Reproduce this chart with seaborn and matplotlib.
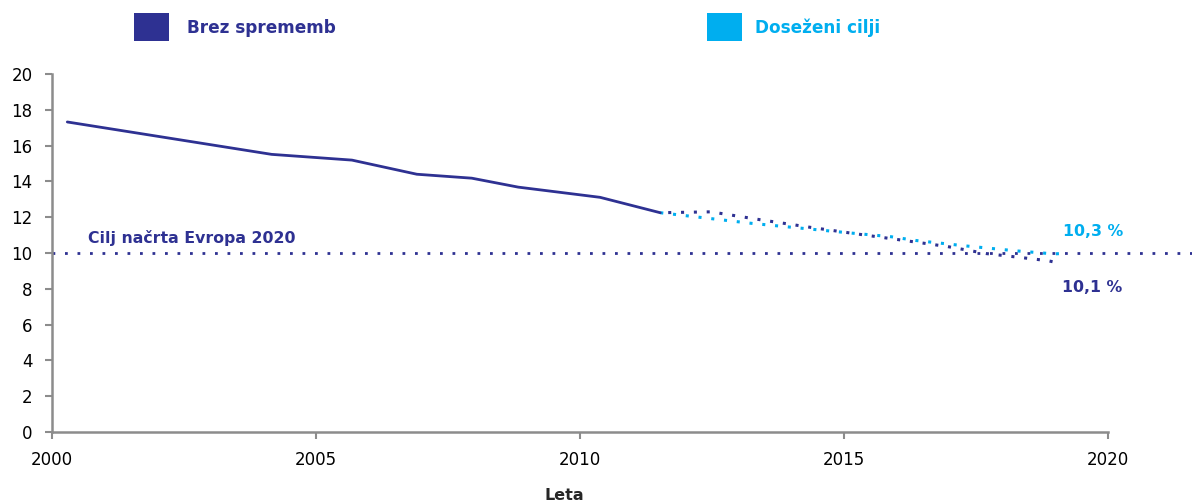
"""
Zgodnje opuščanje šolanja: projekcija do 2020
"""

# %% Imports
import pandas as pd
import seaborn as sns
from matplotlib import pyplot as plt
from matplotlib.patches import Rectangle

# %% Data
hist_years = [2000.29, 2004.16, 2005.68, 2006.91, 2007.95, 2008.83, 2010.38, 2011.52]
hist_values = [17.32, 15.51, 15.19, 14.40, 14.18, 13.68, 13.11, 12.25]

base_years = [2011.52, 2012.48, 2013.41, 2014.35, 2015.28, 2016.02, 2016.96, 2017.69, 2018.40, 2018.86, 2019.10]
base_values = [12.25, 12.30, 11.86, 11.44, 11.05, 10.75, 10.36, 9.97, 9.73, 9.57, 9.42]

target_years = [2011.52, 2012.31, 2013.24, 2014.21, 2015.15, 2015.89, 2016.36, 2017.29, 2018.26, 2018.97, 2019.20]
target_values = [12.25, 11.98, 11.66, 11.38, 11.11, 10.91, 10.70, 10.40, 10.12, 9.95, 9.98]

TARGET_LEVEL = 10
x_ticks = [2000, 2005, 2010, 2015, 2020]
y_ticks = list(range(0, 21, 2))

NAVY = "#2E3192"
CYAN = "#00AEEF"
GREY = "#8C8C8C"

# %% Plot
sns.set_style("white")
plt.rcParams["font.family"] = ["DejaVu Sans"]

fig = plt.figure(figsize=(11.92, 5.03), dpi=100)
ax = fig.add_axes([52 / 1192, 1 - 432 / 503, 1 - 52 / 1192, (432 - 74) / 503])

hist_df = pd.DataFrame({"year": hist_years, "value": hist_values})
base_df = pd.DataFrame({"year": base_years, "value": base_values})
target_df = pd.DataFrame({"year": target_years, "value": target_values})

ax.axhline(TARGET_LEVEL, color=NAVY, lw=2.0, ls=(0, (1, 3.5)), zorder=1)
sns.lineplot(target_df, x="year", y="value", color=CYAN, lw=2.2, ax=ax, zorder=2)
sns.lineplot(base_df, x="year", y="value", color=NAVY, lw=2.2, ax=ax, zorder=3)
sns.lineplot(hist_df, x="year", y="value", color=NAVY, lw=2.0, ax=ax, zorder=4)
ax.lines[1].set_linestyle((0, (1, 3.2)))
ax.lines[2].set_linestyle((1.6, (1, 3.2)))

ax.set_xlim(2000, 2000 + (1192 - 52) / 52.8)
ax.set_ylim(0, 20)
ax.set_xticks(x_ticks)
ax.set_yticks(y_ticks)
ax.set_xlabel("")
ax.set_ylabel("")

ax.spines[["top", "right"]].set_visible(False)
for side in ["left", "bottom"]:
    ax.spines[side].set_color(GREY)
    ax.spines[side].set_linewidth(1.8)
ax.spines["bottom"].set_bounds(2000, 2020)
ax.tick_params(axis="both", which="major", direction="out", length=5, width=1.5, color=GREY,
               labelsize=12, labelcolor="black", pad=9, left=True, bottom=True)

# annotations
ax.text(2000.68, 10.55, "Cilj načrta Evropa 2020", color=NAVY, fontsize=11.3, fontweight="bold")
ax.text(2019.15, 11.2, "10,3 %", color=CYAN, fontsize=11.3, fontweight="bold", va="center")
ax.text(2019.12, 8.1, "10,1 %", color=NAVY, fontsize=11.3, fontweight="bold", va="center")
fig.text(564 / 1192, 1 - 495 / 503, "Leta", ha="center", va="center", fontsize=11.5, fontweight="bold")

# legend
for x0, dx, colour, label in [(134, 53, NAVY, "Brez sprememb"), (707, 48, CYAN, "Doseženi cilji")]:
    fig.add_artist(Rectangle((x0 / 1192, 1 - 41 / 503), 35 / 1192, 28 / 503,
                             transform=fig.transFigure, color=colour, lw=0))
    fig.text((x0 + dx) / 1192, 1 - 28 / 503, label, color=colour, fontsize=12.2,
             fontweight="bold", va="center")

fig.savefig("out.png", dpi=100)
